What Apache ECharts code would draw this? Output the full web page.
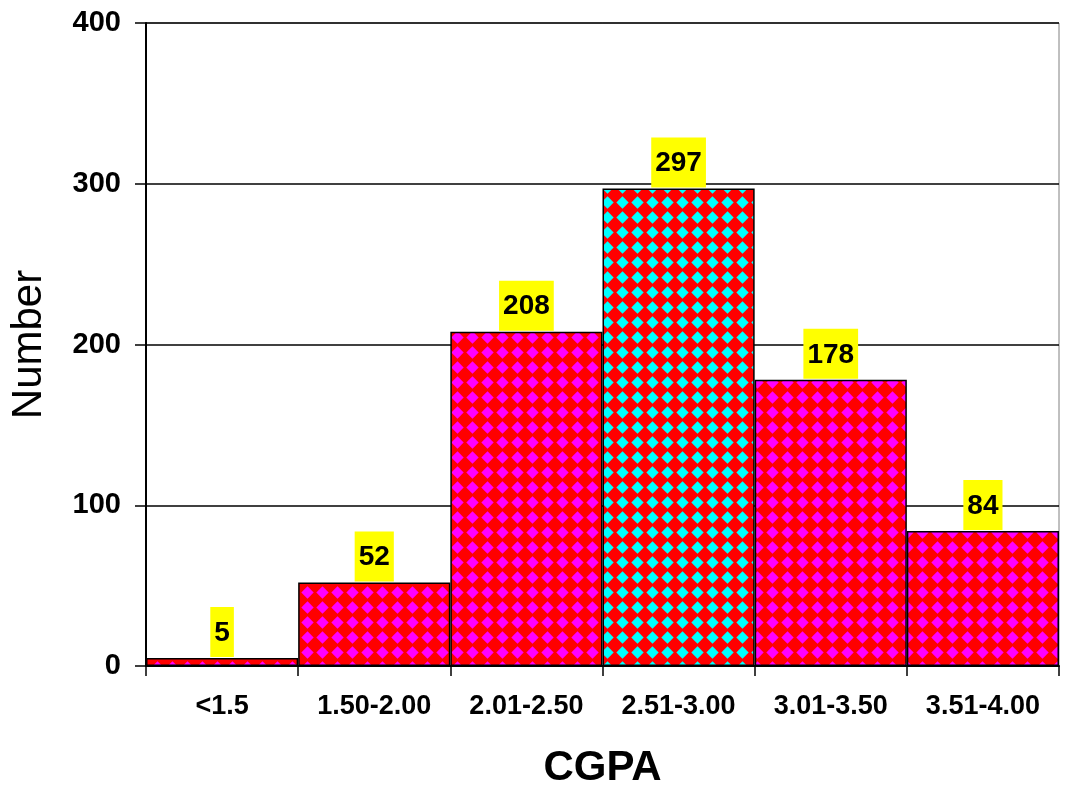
<!DOCTYPE html>
<html><head><meta charset="utf-8">
<script src="https://cdn.jsdelivr.net/npm/echarts@6/dist/echarts.min.js"></script>
<style>html,body{margin:0;padding:0;background:#fff}#c{width:1065px;height:790px}</style>
</head><body><div id="c"></div>
<script>
const categories = ['<1.5','1.50-2.00','2.01-2.50','2.51-3.00','3.01-3.50','3.51-4.00'];
const values = [5, 52, 208, 297, 178, 84];
const yTicks = [0, 100, 200, 300, 400];
const highlightIndex = 3;

function makePattern(bg, fg){
  const c = document.createElement('canvas');
  c.width = 15; c.height = 15;
  const g = c.getContext('2d');
  g.fillStyle = bg; g.fillRect(0,0,15,15);
  g.fillStyle = fg;
  const cx = 7.5, cy = 7.5, r = 6.2;
  g.beginPath();
  g.moveTo(cx, cy - r); g.lineTo(cx + r, cy); g.lineTo(cx, cy + r); g.lineTo(cx - r, cy); g.closePath();
  g.fill();
  return {image: c, repeat: 'repeat'};
}
const magentaPat = makePattern('#ff0000', '#ff00ff');
const cyanPat = makePattern('#ff0000', '#00ffff');

const chart = echarts.init(document.getElementById('c'));
chart.setOption({
  animation: false,
  backgroundColor: '#fff',
  grid: {left: 146, right: 6, top: 23, bottom: 124, containLabel: false, outerBoundsMode: 'none',
         show: true, borderColor: '#808080', borderWidth: 1},
  xAxis: {
    type: 'category', data: categories,
    name: 'CGPA', nameLocation: 'middle', nameGap: 81,
    nameTextStyle: {fontFamily: 'Liberation Sans', fontWeight: 'bold', fontSize: 42, color: '#000'},
    axisLine: {lineStyle: {color: '#000', width: 2}},
    axisTick: {show: true, alignWithLabel: false, interval: 0, length: 10, lineStyle: {color: '#000', width: 1.5}},
    axisLabel: {interval: 0, hideOverlap: false, fontFamily: 'Liberation Sans', fontWeight: 'bold', fontSize: 27, color: '#000', margin: 27}
  },
  yAxis: {
    type: 'value', min: yTicks[0], max: yTicks[yTicks.length-1], interval: 100,
    name: 'Number', nameLocation: 'middle', nameGap: 96, nameRotate: 90,
    nameTextStyle: {fontFamily: 'Liberation Sans', fontSize: 42, color: '#000'},
    axisLine: {show: true, lineStyle: {color: '#000', width: 2}},
    axisTick: {show: true, length: 11, lineStyle: {color: '#000', width: 1.5}},
    axisLabel: {fontFamily: 'Liberation Sans', fontWeight: 'bold', fontSize: 29, color: '#000', margin: 25},
    splitLine: {show: true, lineStyle: {color: '#000', width: 1.5}}
  },
  series: [{
    type: 'bar',
    barCategoryGap: 0,
    data: values.map((v, i) => ({
      value: v,
      itemStyle: {color: i === highlightIndex ? cyanPat : magentaPat, borderColor: '#000', borderWidth: 1.5}
    })),
    label: {
      show: true, position: 'top', distance: 1,
      fontFamily: 'Liberation Sans', fontWeight: 'bold', fontSize: 28, lineHeight: 28, color: '#000',
      backgroundColor: '#ffff00', padding: [12, 4, 10, 4]
    }
  }]
});
</script></body></html>
